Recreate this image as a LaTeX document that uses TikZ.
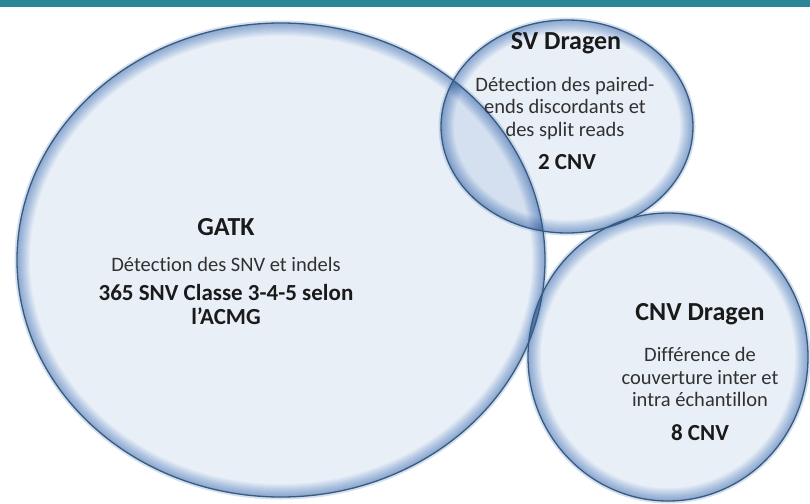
\documentclass[tikz,border=0pt]{standalone}
\usepackage{fontspec}
\setmainfont{Carlito}[Ligatures={NoCommon,NoContextual},Contextuals=NoAlternate]
\definecolor{barcol}{HTML}{2B8797}
\definecolor{bfill}{HTML}{E9EFF7}
\definecolor{bglow}{HTML}{7FA8DA}
\definecolor{bedge}{HTML}{3A5A7C}
\definecolor{txt}{HTML}{1A1A1A}
\newcommand\mybubble[4]{%
  \begin{scope}
    \clip (#1,#2) ellipse [x radius=#3, y radius=#4];
    \fill[bfill] (#1,#2) ellipse [x radius=#3, y radius=#4];
    \foreach \w in {2,4,...,26}{
      \draw[bglow, line width=\w, opacity=0.07] (#1,#2) ellipse [x radius=#3, y radius=#4];
    }
  \end{scope}}
\begin{document}
\begin{tikzpicture}[x=1pt,y=-1pt,
  bubtitle/.style={anchor=base, inner sep=0pt, text=txt, font=\fontsize{26}{30}\selectfont\bfseries},
  bubbody/.style={anchor=base, inner sep=0pt, text=txt!90!white, font=\fontsize{20.5}{23}\selectfont},
  bubcount/.style={anchor=base, inner sep=0pt, text=txt, font=\fontsize{23}{26}\selectfont\bfseries},
  bubedge/.style={draw=bedge, line width=1.3pt},
  bubhalo/.style={draw=bglow, line width=3pt, opacity=0.35}]
\useasboundingbox (0,0) rectangle (810,503);
\fill[white] (0,0) rectangle (810,503);
\fill[barcol] (0,0) rectangle (810,7);

\begin{scope}[blend group=multiply]
  \mybubble{281}{260}{264}{237}
  \mybubble{668}{357}{140}{144}
  \mybubble{567}{126.5}{126}{106.5}
\end{scope}

\draw[bubhalo] (281,260) ellipse [x radius=265, y radius=238];
\draw[bubhalo] (668,357) ellipse [x radius=141, y radius=145];
\draw[bubhalo] (567,126.5) ellipse [x radius=127, y radius=107.5];
\draw[bubedge] (281,260) ellipse [x radius=264, y radius=237];
\draw[bubedge] (668,357) ellipse [x radius=140, y radius=144];
\draw[bubedge] (567,126.5) ellipse [x radius=126, y radius=106.5];

% GATK
\node[bubtitle] (gatkT) at (226,235.5) {GATK};
\node[bubbody]  (gatkB) at (226,271.5) {Détection des SNV et indels};
\node[bubcount] (gatkC1) at (226,300.4) {365 SNV Classe 3-4-5 selon};
\node[bubcount] (gatkC2) at (226,324.4) {l’ACMG};

% SV Dragen
\node[bubtitle] (svT) at (566,49.5) {SV Dragen};
\node[bubbody]  (svB1) at (565,91.5) {Détection des paired-};
\node[bubbody]  (svB2) at (565,113.5) {ends discordants et};
\node[bubbody]  (svB3) at (565,136.5) {des split reads};
\node[bubcount] (svC) at (567,169.4) {2 CNV};

% CNV Dragen
\node[bubtitle] (cnvT) at (700,320.5) {CNV Dragen};
\node[bubbody]  (cnvB1) at (700,361.5) {Différence de};
\node[bubbody]  (cnvB2) at (700,384.5) {couverture inter et};
\node[bubbody]  (cnvB3) at (700,406.5) {intra échantillon};
\node[bubcount] (cnvC) at (700,440.4) {8 CNV};
\end{tikzpicture}
\end{document}
